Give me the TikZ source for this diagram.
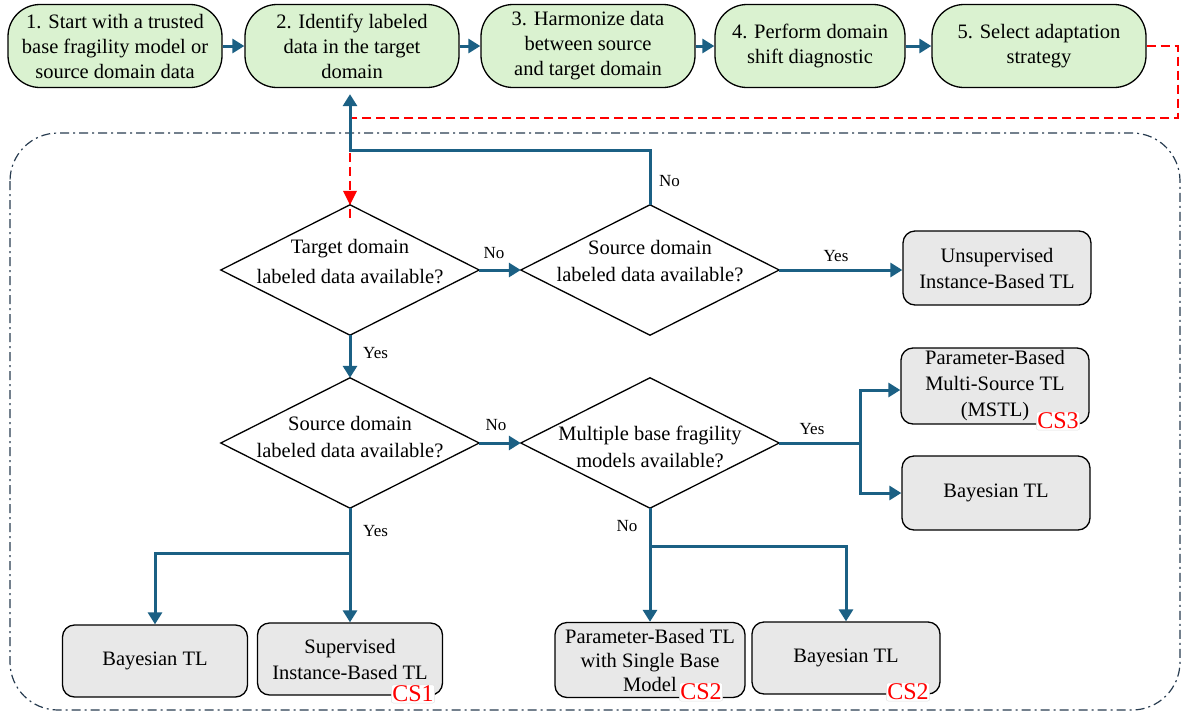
\documentclass[tikz,border=0pt]{standalone}
\usepackage{fontspec}
\setmainfont{Liberation Serif}
\usetikzlibrary{arrows.meta}
\definecolor{flowblue}{RGB}{27,96,132}
\definecolor{greenfill}{RGB}{218,242,208}
\definecolor{grayfill}{RGB}{232,232,232}
\definecolor{framecol}{RGB}{40,60,80}
\tikzset{
  topbox/.style={draw=black, line width=1.3pt, fill=greenfill, rounded corners=32pt,
    minimum width=214pt, minimum height=83pt, align=center, inner sep=2pt,
    font=\fontsize{20.5}{25}\selectfont},
  grbox/.style={draw=black, line width=1.3pt, fill=grayfill, rounded corners=12pt,
    minimum width=188pt, minimum height=74pt, align=center, inner sep=2pt,
    font=\fontsize{20.5}{26}\selectfont},
  decision/.style={rectangle, draw=none, minimum width=258pt, minimum height=130pt,
    inner sep=0pt},
  dtext/.style={align=center, inner sep=0pt, font=\fontsize{20.5}{27}\selectfont},
  diamondline/.style={draw=black, line width=1.3pt},
  flow/.style={draw=flowblue, line width=3pt, -{Triangle[length=12pt,width=14pt]}},
  flowline/.style={draw=flowblue, line width=3pt},
  reddash/.style={draw=red, line width=2.5pt, dash pattern=on 9pt off 5pt},
  lbl/.style={font=\fontsize{17}{20}\selectfont, inner sep=1pt},
  cslbl/.style={text=red, fill=white, draw=black!12, rounded corners=2pt, inner sep=1pt,
    font=\fontsize{24}{26}\selectfont}
}
\begin{document}
\begin{tikzpicture}[x=1pt,y=-1pt]
\useasboundingbox (0,0) rectangle (1187,713);
% frame
\draw[framecol, line width=1.2pt, dash pattern=on 9pt off 4pt on 2pt off 4pt, rounded corners=48pt]
  (10,133) rectangle (1180,710);
% top row
\node[topbox] (s1) at (115,46) {1. Start with a trusted\\base fragility model or\\source domain data};
\node[topbox] (s2) at (352,46) {2. Identify labeled\\data in the target\\domain};
\node[topbox] (s3) at (588,46) {3. Harmonize data\\between source\\and target domain};
\node[topbox, minimum width=190pt] (s4) at (810,46) {4. Perform domain\\shift diagnostic};
\node[topbox] (s5) at (1039,46) {5. Select adaptation\\strategy};
\draw[flow] (s1) -- (s2);
\draw[flow] (s2) -- (s3);
\draw[flow] (s3) -- (s4);
\draw[flow] (s4) -- (s5);
% decisions
\node[decision, label={[dtext, yshift=8pt, font=\fontsize{20.5}{30}\selectfont]center:{Target domain\\labeled data available?}}] (d1) at (350,270) {};
\node[decision, label={[dtext, yshift=9pt]center:{Source domain\\labeled data available?}}] (d2) at (650,270) {};
\node[decision, label={[dtext, yshift=6pt]center:{Source domain\\labeled data available?}}] (d3) at (350,443) {};
\node[decision, label={[dtext, yshift=-4pt]center:{Multiple base fragility\\models available?}}] (d4) at (650,443) {};
\foreach \d in {d1,d2,d3,d4}
  \draw[diamondline] (\d.north) -- (\d.east) -- (\d.south) -- (\d.west) -- cycle;
% outcomes
\node[grbox] (unsup) at (997,268) {Unsupervised\\Instance-Based TL};
\node[grbox, minimum height=76pt] (mstl) at (995,386) {Parameter-Based\\Multi-Source TL\\(MSTL)};
\node[grbox] (bayR) at (996,493) {Bayesian TL};
\node[grbox, minimum height=72pt, minimum width=185pt] (bayL) at (155,661) {Bayesian TL};
\node[grbox, minimum height=72pt, minimum width=185pt] (sup) at (350,659) {Supervised\\Instance-Based TL};
\node[grbox, minimum height=75pt, minimum width=190pt, font=\fontsize{20.5}{24}\selectfont] (single) at (650,660) {Parameter-Based TL\\with Single Base\\Model};
\node[grbox, minimum height=72pt] (bayM) at (846,658) {Bayesian TL};
% CS labels
\node[cslbl] (cs1) at (413,694) {CS1};
\node[cslbl] (cs3) at (1058,421) {CS3};
\node[cslbl] (cs2a) at (701,692) {CS2};
\node[cslbl] (cs2b) at (908,692) {CS2};
% feedback loops
\coordinate (r1) at (1178,46);
\coordinate (r2) at (1178,118);
\coordinate (r3) at (350,118);
\draw[reddash] (s5.east) -- (r1) -- (r2) -- (r3) -- ([yshift=-13pt]d1.north);
\fill[red] (d1.north) -- ++(-7,-14) -- ++(14,0) -- cycle;
\coordinate (b1) at (650,150);
\coordinate (b2) at (350,150);
\draw[flow, shorten >=6pt] (d2.north) -- (b1) -- (b2) -- (b2 |- s2.south);
\node[lbl, anchor=west] at (658,181) {No};
% decision connectors
\draw[flow] (d1.east) -- (d2.west);
\node[lbl] at (494,253) {No};
\draw[flow] (d2.east) -- (unsup.west |- d2.east);
\node[lbl] at (836,256) {Yes};
\draw[flow] (d1.south) -- (d3.north);
\node[lbl, anchor=west] at (362,353) {Yes};
\draw[flow] (d3.east) -- (d4.west);
\node[lbl] at (496,425) {No};
\coordinate (j4) at (860,443);
\draw[flowline] (d4.east) -- (j4);
\draw[flow] (j4) |- ([yshift=-4pt]mstl.west);
\draw[flow] (j4) |- (bayR.west);
\node[lbl] at (812,429) {Yes};
\coordinate (j3) at (350,553);
\draw[flowline] (d3.south) -- (j3);
\draw[flow] (j3) -| (bayL.north);
\draw[flow] (j3) -- (sup.north);
\node[lbl, anchor=west] at (362,531) {Yes};
\coordinate (j5) at (650,546);
\draw[flowline] (d4.south) -- (j5);
\draw[flow] (j5) -- (single.north);
\draw[flow] (j5) -| (bayM.north);
\node[lbl] at (627,526) {No};
\end{tikzpicture}
\end{document}
